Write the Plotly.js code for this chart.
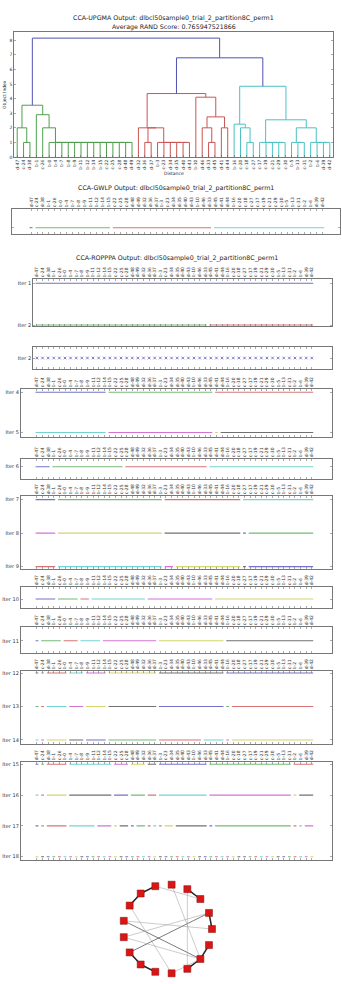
<!DOCTYPE html>
<html><head><meta charset="utf-8">
<script src="https://cdn.plot.ly/plotly-3.0.1.min.js"></script>
<style>html,body{margin:0;padding:0;background:#fff}#chart{width:342px;height:984px}</style>
</head><body><div id="chart"></div>
<script>
// ---------------- DATA ----------------
const leafLabels = ['d-47','c-24','d-38','b-1','c-26','b-0','b-4','b-7','b-8','b-9','b-11','b-12','b-14','b-15','c-22','c-25','c-28','d-48','d-49',
  'd-32','d-36','d-37','b-3','c-23','d-34','d-35','d-40','d-43','b-10','d-46','d-33','d-45','d-41','d-44',
  'b-16','c-20','c-18','c-27','c-17','c-19','c-21','c-29','c-30','b-5','b-13','c-31','b-2','b-6','d-39','d-42'];
const clusterSizes = [19, 15, 16];
const colorThreshold = 6;
// linkage: [nodeA, nodeB, height]; leaves are 0..49, merge k creates node 50+k
const merges = [
  [1,2,1],[0,50,2],
  [17,18,1],[16,52,1],[15,53,1],[14,54,1],[13,55,1],[12,56,1],[11,57,1],[10,58,1],[9,59,1],[8,60,1],[7,61,1],[6,62,1],[5,63,1],
  [4,64,2],[3,65,2.9],[51,66,3.55],
  [20,21,1],[26,27,1],[25,69,1],[24,70,1],[23,71,1],[22,72,1],[68,73,2],[19,74,2],
  [30,31,1],[29,76,2],[32,33,2],[77,78,2.75],[28,79,4.1],[75,80,4.35],
  [36,37,1],[35,82,2],[34,83,2.25],
  [41,42,1],[40,85,1],[39,86,1],[38,87,1],
  [44,45,1],[43,89,1],
  [48,49,1],[47,91,1],[46,92,1],
  [90,93,2],[88,94,2.55],[84,95,4.85],
  [81,96,6.8],[67,97,8.15]
];
const dendroYTicks = [0,1,2,3,4,5,6,7,8];

const gwlpSizes = [1, 13, 17, 19];

const iter1 = [50];
const iter2 = [31, 19];
const iter4 = [13, 19, 18];
const iter5 = [13, 19, 1, 17];
const iter6 = [3, 13, 15, 19];
const iter7 = [4, 19, 14, 13];
const iter8 = [4, 19, 14, 1, 12];
const iter9 = [4, 19, 2, 12, 1, 12];
const iter10 = [4, 4, 2, 10, 12, 18];
const iter11 = [1, 4, 3, 4, 10, 12, 16];
const iter12 = [1, 1, 4, 3, 4, 9, 12, 16];
const iter13 = [1, 1, 4, 3, 4, 9, 12, 1, 15];
const iter14 = [1, 1, 4, 3, 4, 9, 8, 4, 1, 15];
const iter15 = [1, 1, 4, 8, 3, 3, 2, 9, 15, 4];
const iter16 = [1, 1, 4, 8, 3, 3, 2, 9, 15, 1, 3];
const iter17 = [1, 1, 4, 5, 3, 1, 2, 1, 2, 1, 1, 1, 2, 6, 1, 14, 1, 1, 2];
const iter18 = [1,1,1,1,1,1,1,1,1,1,1,1,1,1,1,1,1,1,1,1,1,1,1,1,1,1,1,1,1,1,1,1,1,1,1,1,1,1,1,1,1,1,1,1,1,1,1,1,1,1];

const networkNodeCount = 17;
// [nodeA, nodeB, weight]
const networkEdges = [
  [6,5,1],[7,6,1],[3,2,1],[1,0,1],[16,15,1],[15,14,1],[12,11,1],[11,10,1],
  [10,1,0.6],[8,15,0.6],
  [5,2,0.25],[4,15,0.25],[3,14,0.25],[8,0,0.25],[9,1,0.25],[9,15,0.25],[7,13,0.25],[13,15,0.25]
];

// ---------------- STYLE / LAYOUT HELPERS ----------------
const W = 342, H = 984;
const FONT = 'DejaVu Sans, sans-serif';
const dx = (a, b) => [a / W, b / W];
const dy = (top, bottom) => [1 - bottom / H, 1 - top / H];
const cycle = ['#7373c8','#74ba74','#d67474','#74d2d2','#d274d2','#d4d470','#707070'];
const dendroColors = ['#4f9f4f','#c95454','#4cc2c2'];
const aboveColor = '#5252b2';
const axisColor = '#555';

const traces = [];
const layout = {
  width: W, height: H, margin: {l:0, r:0, t:0, b:0},
  paper_bgcolor: '#fff', plot_bgcolor: '#fff', showlegend: false,
  font: {family: FONT, color: '#222'},
  annotations: []
};

// ---------------- DENDROGRAM ----------------
(function () {
  const nodeX = leafLabels.map((_, i) => 5 + 10 * i);
  const nodeH = leafLabels.map(() => 0);
  const nodeLeaf = leafLabels.map((_, i) => i);
  const bounds = []; let acc = 0;
  clusterSizes.forEach(s => { acc += s; bounds.push(acc); });
  const clusterOf = leaf => bounds.findIndex(b => leaf < b);
  const groups = {};
  merges.forEach(([a, b, h]) => {
    const col = h > colorThreshold ? aboveColor : dendroColors[clusterOf(Math.min(nodeLeaf[a], nodeLeaf[b]))];
    const g = groups[col] || (groups[col] = {x: [], y: []});
    g.x.push(nodeX[a], nodeX[a], nodeX[b], nodeX[b], null);
    g.y.push(nodeH[a], h, h, nodeH[b], null);
    nodeX.push((nodeX[a] + nodeX[b]) / 2);
    nodeH.push(h);
    nodeLeaf.push(Math.min(nodeLeaf[a], nodeLeaf[b]));
  });
  Object.keys(groups).forEach(col => traces.push({
    type: 'scatter', mode: 'lines', x: groups[col].x, y: groups[col].y,
    line: {color: col, width: 1}, xaxis: 'x', yaxis: 'y', hoverinfo: 'skip'
  }));
  layout.xaxis = {domain: dx(14, 333), range: [0, 10 * leafLabels.length], anchor: 'y',
    tickvals: leafLabels.map((_, i) => 5 + 10 * i), ticktext: leafLabels, tickangle: -90,
    tickfont: {size: 4.5, color: '#333'}, ticks: 'inside', ticklen: 2, tickwidth: 0.5, tickcolor: axisColor,
    showline: true, linecolor: axisColor, linewidth: 0.8, mirror: true, showgrid: false, zeroline: false};
  layout.yaxis = {domain: dy(32, 157), range: [0, 8.57], anchor: 'x',
    tickvals: dendroYTicks, tickfont: {size: 4.5, color: '#333'}, ticks: 'inside', ticklen: 2, tickwidth: 0.5,
    tickcolor: axisColor, showline: true, linecolor: axisColor, linewidth: 0.8, mirror: 'allticks',
    showgrid: false, zeroline: false};
})();

// ---------------- ROW PANELS ----------------
function rowPanel(k, rows, names, cfg) {
  const groups = {};
  let ci = 0;
  rows.forEach((sizes, r) => {
    let pos = 0;
    sizes.forEach(s => {
      const col = cycle[ci % cycle.length]; ci++;
      const g = groups[col] || (groups[col] = {x: [], y: []});
      g.x.push(pos - 0.25, pos + s - 1 + 0.25, null);
      g.y.push(r + 1, r + 1, null);
      pos += s;
    });
  });
  Object.keys(groups).forEach(col => traces.push({
    type: 'scatter', mode: 'lines', x: groups[col].x, y: groups[col].y,
    line: {color: col, width: 1.1}, xaxis: 'x' + k, yaxis: 'y' + k, hoverinfo: 'skip'
  }));
  axes(k, rows.length, names, cfg);
}
function axes(k, n, names, cfg) {
  layout['xaxis' + k] = {domain: dx(cfg.x[0], cfg.x[1]), range: cfg.xr, anchor: 'y' + k,
    side: 'top', tickvals: leafLabels.map((_, i) => i), ticktext: leafLabels,
    showticklabels: cfg.labels !== false, tickangle: -90, tickfont: {size: 4.5, color: '#333'},
    ticks: 'inside', ticklen: 2, tickwidth: 0.5, tickcolor: axisColor,
    showline: true, linecolor: axisColor, linewidth: 0.8, mirror: 'allticks', showgrid: false, zeroline: false};
  layout['yaxis' + k] = {domain: dy(cfg.y[0], cfg.y[1]), range: cfg.yr, anchor: 'x' + k,
    tickvals: names.map((_, i) => i + 1), ticktext: names, showticklabels: cfg.ylabels !== false,
    tickfont: {size: 5, color: '#333'}, ticks: 'inside', ticklen: 2, tickwidth: 0.5, tickcolor: axisColor,
    showline: true, linecolor: axisColor, linewidth: 0.8, mirror: 'allticks', showgrid: false, zeroline: false};
}

const XR1 = [-0.7, 52.6], XR2 = [-2.9, 52.6];
rowPanel(2, [gwlpSizes], [''], {x: [12, 340], y: [209, 234], xr: [-3.2, 51.9], yr: [1.315, 0.065], ylabels: false});
rowPanel(3, [iter1, iter2], ['Iter 1', 'Iter 2'], {x: [33, 332], y: [279, 326], xr: XR1, yr: [2.024, 0.897]});

// Iter 2 marker panel
traces.push({type: 'scatter', mode: 'markers', x: leafLabels.map((_, i) => i), y: leafLabels.map(() => 1),
  marker: {symbol: 'x-thin-open', size: 2.6, color: '#5a5ac0', line: {width: 0.8, color: '#5a5ac0'}},
  xaxis: 'x4', yaxis: 'y4', hoverinfo: 'skip'});
axes(4, 1, ['Iter 2'], {x: [33, 332], y: [347, 369], xr: XR1, yr: [1.5, 0.5], labels: false});

rowPanel(5, [iter4, iter5], ['Iter 4', 'Iter 5'], {x: [20.7, 332], y: [389, 437], xr: XR2, yr: [2.11, 0.918]});
rowPanel(6, [iter6], ['Iter 6'], {x: [20.7, 332], y: [459, 479], xr: XR2, yr: [1.615, 0.615]});
rowPanel(7, [iter7, iter8, iter9], ['Iter 7', 'Iter 8', 'Iter 9'], {x: [20.7, 332], y: [496, 569], xr: XR2, yr: [3.07, 0.893]});
rowPanel(8, [iter10], ['Iter 10'], {x: [20.7, 332], y: [587, 608], xr: XR2, yr: [1.45, 0.4]});
rowPanel(9, [iter11], ['Iter 11'], {x: [20.7, 332], y: [627, 653], xr: XR2, yr: [1.62, 0.3]});
rowPanel(10, [iter12, iter13, iter14], ['Iter 12', 'Iter 13', 'Iter 14'], {x: [20.7, 332], y: [671, 744], xr: XR2, yr: [3.12, 0.94]});
rowPanel(11, [iter15, iter16, iter17, iter18], ['Iter 15', 'Iter 16', 'Iter 17', 'Iter 18'], {x: [20.7, 332], y: [762, 860], xr: XR2, yr: [4.107, 0.925]});

// ---------------- NETWORK ----------------
(function () {
  const nx = [], ny = [];
  for (let j = 0; j < networkNodeCount; j++) {
    const a = 2 * Math.PI * j / networkNodeCount;
    nx.push(Math.cos(a)); ny.push(Math.sin(a));
  }
  const styles = [
    {test: w => w >= 0.9, color: '#222', width: 1.5},
    {test: w => w >= 0.5 && w < 0.9, color: '#444', width: 0.7},
    {test: w => w < 0.5, color: '#999', width: 0.5}
  ];
  styles.forEach(st => {
    const ex = [], ey = [];
    networkEdges.filter(e => st.test(e[2])).forEach(([a, b]) => {
      ex.push(nx[a], nx[b], null); ey.push(ny[a], ny[b], null);
    });
    traces.push({type: 'scatter', mode: 'lines', x: ex, y: ey, line: {color: st.color, width: st.width},
      xaxis: 'x12', yaxis: 'y12', hoverinfo: 'skip'});
  });
  traces.push({type: 'scatter', mode: 'markers', x: nx, y: ny,
    marker: {symbol: 'square', size: 7, color: '#dd1414', line: {color: '#7a1010', width: 0.5}},
    xaxis: 'x12', yaxis: 'y12', hoverinfo: 'skip'});
  layout.xaxis12 = {domain: dx(117, 218), range: [-1.135, 1.135], anchor: 'y12', visible: false};
  layout.yaxis12 = {domain: dy(878, 980), range: [-1.146, 1.146], anchor: 'x12', visible: false};
})();

// ---------------- TEXT ----------------
function ann(text, xpx, ypx, size, extra) {
  layout.annotations.push(Object.assign({text: text, x: xpx / W, y: 1 - ypx / H, xref: 'paper', yref: 'paper',
    showarrow: false, xanchor: 'center', yanchor: 'middle', font: {family: FONT, size: size, color: '#222'}}, extra || {}));
}
ann('CCA-UPGMA Output: dlbcl50sample0_trial_2_partition8C_perm1', 173.5, 18, 6.3);
ann('Average RAND Score: 0.765947521866', 173.5, 26.5, 6.3);
ann('Distance', 173.5, 173.5, 4.5);
ann('Object Index', 4, 95, 4.5, {textangle: -90});
ann('CCA-GWLP Output: dlbcl50sample0_trial_2_partition8C_perm1', 176, 188, 6.3);
ann('CCA-ROPPPA Output: dlbcl50sample0_trial_2_partition8C_perm1', 176.5, 258, 6.3);

Plotly.newPlot('chart', traces, layout, {displayModeBar: false, staticPlot: true});
</script>
</body></html>
